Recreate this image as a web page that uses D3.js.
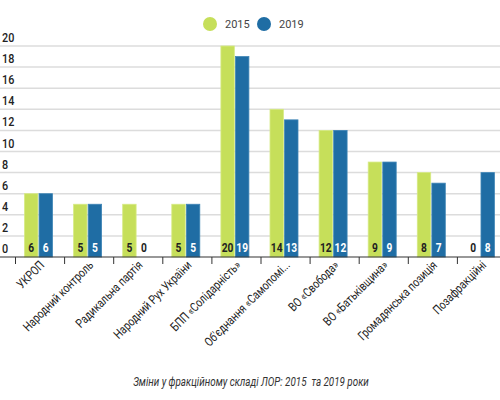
<!DOCTYPE html>
<html>
<head>
<meta charset="utf-8">
<script src="https://cdn.jsdelivr.net/npm/d3@7"></script>
<style>
  body { margin: 0; background: #fff; }
  svg { display: block; }
</style>
</head>
<body>
<svg id="chart" width="500" height="400"></svg>
<script>
// factions in the Lviv oblast council
const PARTIES = ['УКРОП', 'Народний контроль', 'Радикальна партія', 'Народний Рух України',
  'БПП «Солідарність»', 'Об\'єднання «Самопомі...', 'ВО «Свобода»', 'ВО «Батьківщина»',
  'Громадянська позиція', 'Позафракційні']
const YEARS = ['2015', '2019']
const SEATS_2015 = [6, 5, 5, 5, 20, 14, 12, 9, 8, 0]
const SEATS_2019 = [6, 5, 0, 5, 19, 13, 12, 9, 7, 8]
const Y_TICKS = [0, 2, 4, 6, 8, 10, 12, 14, 16, 18, 20]
const CAPTION = 'Зміни у фракційному складі ЛОР: 2015  та 2019 роки'

const COLORS = { '2015': '#c6df5a', '2019': '#1f6da4' }
const LABEL_COLORS = { '2015': '#222', '2019': '#fff' }

const data = PARTIES.map((p, i) => ({ party: p, '2015': SEATS_2015[i], '2019': SEATS_2019[i] }))

const svg = d3.select('#chart')
const font = 'Roboto, sans-serif'

const xScale = d3.scaleBand().domain(PARTIES).range([15.5, 506.5]).paddingInner(0).paddingOuter(0)
const inner = d3.scaleBand().domain(YEARS).range([9, 37]).paddingInner(0.08)
const yScale = d3.scaleLinear().domain([0, 20]).range([257, 46])

/* grid + y labels */
const grid = svg.append('g').attr('class', 'grid')
grid.selectAll('line').data(Y_TICKS.filter(d => d > 0)).enter().append('line')
  .attr('x1', 0).attr('x2', 500)
  .attr('y1', d => yScale(d)).attr('y2', d => yScale(d))
  .attr('stroke', '#dcdcdc').attr('stroke-width', 1.5)
grid.selectAll('text').data(Y_TICKS).enter().append('text')
  .attr('transform', d => 'translate(2,' + (yScale(d) - 4) + ') scale(0.9,1)')
  .attr('font-family', font).attr('font-size', 12).attr('font-weight', 500).attr('fill', '#222')
  .text(d => d)

/* bars */
const groups = svg.append('g').attr('id', 'graph-g').selectAll('.party')
  .data(data).enter().append('g').attr('class', 'party')
  .attr('transform', d => 'translate(' + xScale(d.party) + ',0)')

groups.selectAll('rect').data(d => YEARS.map(y => ({ year: y, value: d[y] })))
  .enter().append('rect')
  .attr('x', d => inner(d.year)).attr('width', inner.bandwidth())
  .attr('y', d => yScale(d.value)).attr('height', d => yScale(0) - yScale(d.value))
  .attr('fill', d => COLORS[d.year])
  .attr('stroke', d => d.year === '2015' ? '#d6ea84' : '#3f85b6').attr('stroke-width', 0.8)

groups.selectAll('text').data(d => YEARS.map(y => ({ year: y, value: d[y] })))
  .enter().append('text')
  .attr('transform', d => 'translate(' + (inner(d.year) + inner.bandwidth() / 2) + ',' + (yScale(0) - 5) + ') scale(0.85,1)')
  .attr('text-anchor', 'middle')
  .attr('font-family', font).attr('font-size', 12).attr('font-weight', 'bold')
  .attr('fill', d => d.value === 0 ? '#222' : LABEL_COLORS[d.year])
  .text(d => d.value)

/* x axis */
const axis = svg.append('g').attr('class', 'x axis')
axis.append('line').attr('x1', 0).attr('x2', 500).attr('y1', yScale(0)).attr('y2', yScale(0))
  .attr('stroke', '#333').attr('stroke-width', 1.2)
axis.selectAll('.tick').data(PARTIES).enter().append('line').attr('class', 'tick')
  .attr('x1', d => xScale(d)).attr('x2', d => xScale(d))
  .attr('y1', yScale(0)).attr('y2', yScale(0) + 7)
  .attr('stroke', '#333').attr('stroke-width', 1)
// labels condensed along the text direction
axis.selectAll('text').data(PARTIES).enter().append('text')
  .attr('text-anchor', 'end')
  .attr('transform', d => 'translate(' + (xScale(d) + xScale.bandwidth() / 2 + 5) + ',' + (yScale(0) + 9) + ') rotate(-45) scale(0.8,1)')
  .attr('font-family', font).attr('font-size', 12.5).attr('fill', '#222')
  .text(d => d)

/* legend */
const legend = svg.append('g').attr('class', 'legend')
YEARS.forEach((y, i) => {
  legend.append('circle').attr('cx', 210 + i * 54).attr('cy', 24).attr('r', 7).attr('fill', COLORS[y])
  legend.append('text').attr('x', 225 + i * 54).attr('y', 28)
    .attr('font-family', font).attr('font-size', 11).attr('fill', '#444').text(y)
})

/* caption */
svg.append('text').attr('transform', 'translate(251,386) scale(0.82,1)').attr('text-anchor', 'middle')
  .attr('font-family', font).attr('font-size', 12).attr('font-style', 'italic')
  .attr('fill', '#333').attr('xml:space', 'preserve').style('white-space', 'pre')
  .text(CAPTION)
</script>
</body>
</html>
